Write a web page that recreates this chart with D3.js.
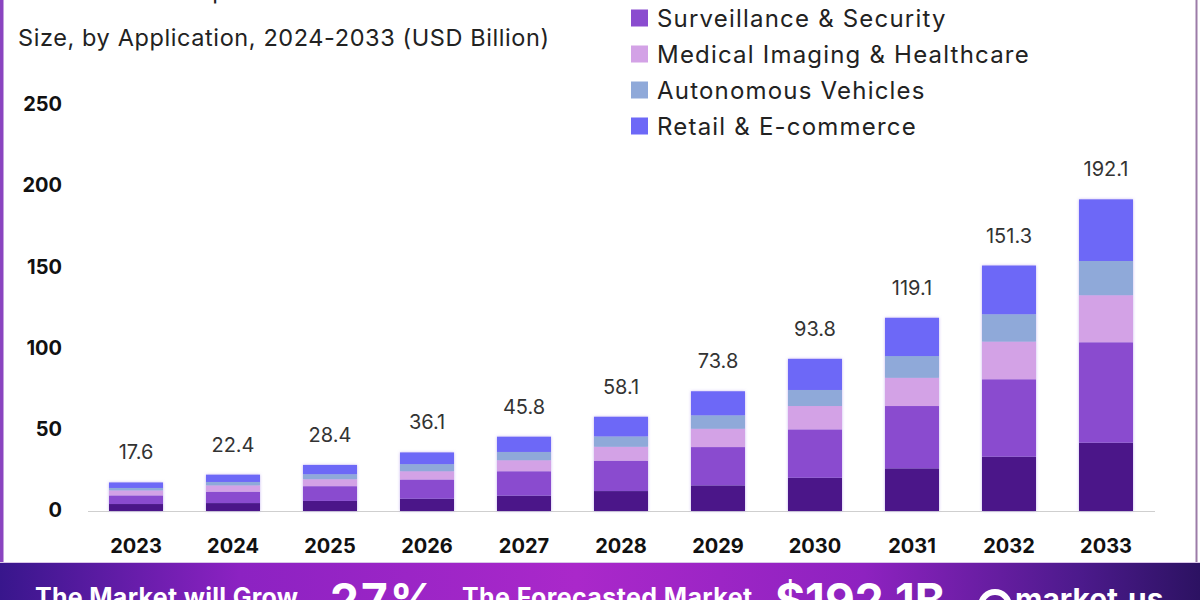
<!DOCTYPE html>
<html>
<head>
<meta charset="utf-8">
<script src="https://cdn.jsdelivr.net/npm/d3@7"></script>
<style>
  html, body { margin: 0; padding: 0; background: #fff; }
  svg { display: block; }
  text { font-family: "Inter", "Noto Sans", sans-serif; }
</style>
</head>
<body>
<svg id="chart" width="1200" height="600"></svg>
<script>
// ---- data ----
const years = ["2023","2024","2025","2026","2027","2028","2029","2030","2031","2032","2033"];
const seriesNames = ["Manufacturing & Quality Control","Surveillance & Security","Medical Imaging & Healthcare","Autonomous Vehicles","Retail & E-commerce"];
const manufacturing = [4.3, 4.9, 6.2, 7.6, 9.5, 12.3, 15.8, 20.5, 26.3, 33.5, 42.1];
const surveillance  = [5.3, 7.0, 9.1, 11.8, 15.0, 18.7, 23.6, 29.8, 38.4, 47.7, 61.9];
const medical       = [3.1, 3.9, 4.3, 5.1, 6.8, 8.6, 11.3, 14.4, 17.4, 23.2, 29.0];
const autonomous    = [1.5, 2.1, 3.1, 4.4, 5.1, 6.4, 8.3, 9.9, 13.4, 16.9, 21.1];
const retail        = [3.4, 4.5, 5.7, 7.2, 9.4, 12.1, 14.8, 19.2, 23.6, 30.0, 38.0];
const totals        = [17.6, 22.4, 28.4, 36.1, 45.8, 58.1, 73.8, 93.8, 119.1, 151.3, 192.1];
const yTicks = [0, 50, 100, 150, 200, 250];
const colors = ["#4b1889", "#8a4ccf", "#d3a2e6", "#8fa9d9", "#6d68f7"];

const title1 = "Global AI in Computer Vision Market";
const title2 = "Size, by Application, 2024-2033 (USD Billion)";
const bannerTexts = ["The Market will Grow", "27%", "The Forecasted Market", "$192.1B"];

// ---- build ----
const svg = d3.select("#chart");
const defs = svg.append("defs");

const glow = defs.append("filter").attr("id","glow").attr("x","-20%").attr("y","-20%").attr("width","140%").attr("height","140%");
glow.append("feDropShadow").attr("dx",0).attr("dy",0).attr("stdDeviation",1.6)
  .attr("flood-color","#9b7ee6").attr("flood-opacity",0.55);

const grad = defs.append("linearGradient").attr("id","band").attr("x1","0").attr("x2","1").attr("y1","0").attr("y2","0");
[[0,"#38168c"],[0.2,"#8c22c2"],[0.48,"#aa28ca"],[0.72,"#8e22c0"],[0.9,"#4c1a8c"],[1,"#2c1262"]]
  .forEach(([o,c]) => grad.append("stop").attr("offset",o).attr("stop-color",c));

const table = years.map((y,i) => ({
  year: y,
  s0: manufacturing[i], s1: surveillance[i], s2: medical[i], s3: autonomous[i], s4: retail[i],
  total: totals[i]
}));
const keys = ["s0","s1","s2","s3","s4"];
const stacked = d3.stack().keys(keys)(table);

const x = d3.scaleBand().domain(years).range([87.5, 1154.5]).paddingInner(0.443).paddingOuter(0.2215);
const y = d3.scaleLinear().domain([0, 250]).range([511, 105.4]);

// borders
svg.append("rect").attr("x",0).attr("y",0).attr("width",3.5).attr("height",565).attr("fill","#8a44c0");
svg.append("rect").attr("x",1195.5).attr("y",0).attr("width",2).attr("height",565).attr("fill","#9c7ca8");

// title
svg.append("text").attr("x",18).attr("y",-1).attr("font-size",23.5).attr("letter-spacing",0.6).attr("fill","#222").text(title1);
svg.append("text").attr("x",18).attr("y",46).attr("font-size",23.5).attr("letter-spacing",0.6).attr("fill","#222").text(title2);

// legend
const legend = svg.append("g").attr("transform","translate(631,0)");
seriesNames.forEach((name,i) => {
  const cy = -18 + i*36;
  legend.append("rect").attr("x",0).attr("y",cy-8.5).attr("width",17).attr("height",17).attr("fill",colors[i]);
  legend.append("text").attr("x",26).attr("y",cy).attr("dy","0.36em").attr("font-size",24)
    .attr("letter-spacing",1.2).attr("fill","#222").text(name);
});

// baseline
svg.append("line").attr("x1",88).attr("x2",1155).attr("y1",y(0)+0.5).attr("y2",y(0)+0.5)
  .attr("stroke","#cfcfcf").attr("stroke-width",1.2);

// bars
const barG = svg.append("g");
stacked.forEach((layer,li) => {
  barG.append("g").attr("fill",colors[li])
    .selectAll("rect").data(layer).join("rect")
    .attr("x", d => x(d.data.year))
    .attr("width", x.bandwidth())
    .attr("y", d => y(d[1]))
    .attr("height", d => y(d[0]) - y(d[1]));
});
barG.attr("filter","url(#glow)");

// totals
svg.append("g").selectAll("text").data(table).join("text")
  .attr("x", d => x(d.year) + x.bandwidth()/2)
  .attr("y", d => y(d.total) - 23)
  .attr("text-anchor","middle").attr("font-size",20).attr("fill","#333")
  .text(d => d.total.toFixed(1));

// y axis
const yAxis = d3.axisLeft(y).tickValues(yTicks).tickSize(0).tickPadding(0);
const ya = svg.append("g").attr("transform","translate(62,-1)").call(yAxis);
ya.select(".domain").remove();
ya.selectAll("text").attr("font-size",20).attr("font-weight",700).attr("fill","#111")
  .style("font-family","Inter, sans-serif");

// x axis
const xAxis = d3.axisBottom(x).tickSize(0).tickPadding(0);
const xa = svg.append("g").attr("transform","translate(0,539)").call(xAxis);
xa.select(".domain").remove();
xa.selectAll("text").attr("font-size",20).attr("font-weight",700).attr("fill","#111")
  .style("font-family","Inter, sans-serif");

// bottom banner
svg.append("rect").attr("x",0).attr("y",562).attr("width",1200).attr("height",40).attr("fill","url(#band)");
svg.append("line").attr("x1",0).attr("x2",1200).attr("y1",562.5).attr("y2",562.5).attr("stroke","#d9c6e8").attr("stroke-width",1);
const bt = svg.append("g").attr("fill","#fff").attr("font-weight",700);
bt.append("text").attr("x",35).attr("y",606).attr("font-size",25).attr("letter-spacing",0.3).text(bannerTexts[0]);
bt.append("text").attr("x",330).attr("y",617).attr("font-size",46).attr("letter-spacing",2).text(bannerTexts[1]);
bt.append("text").attr("x",462).attr("y",606).attr("font-size",25).attr("letter-spacing",0.4).text(bannerTexts[2]);
bt.append("text").attr("x",775).attr("y",617).attr("font-size",46).text(bannerTexts[3]);
bt.append("circle").attr("cx",995).attr("cy",606).attr("r",14).attr("fill","none").attr("stroke","#fff").attr("stroke-width",6);
bt.append("text").attr("x",1015).attr("y",610).attr("font-size",30).text("market.us");
</script>
</body>
</html>
